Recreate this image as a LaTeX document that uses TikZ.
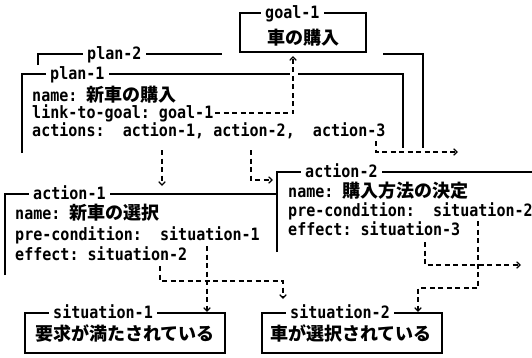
\documentclass[tikz,border=0pt]{standalone}
\usepackage{fontspec}
\setmonofont[FakeStretch=0.885]{DejaVu Sans Mono}
\newfontfamily\jpfont[Scale=1.06]{Noto Sans CJK JP}
\usetikzlibrary{arrows.meta}
\newcommand\latfont{\fontsize{17}{20}\selectfont\ttfamily\bfseries}
\newcommand\J[1]{{\jpfont #1}}
\tikzset{
  frame/.style={draw=black, line width=1.6pt},
  link/.style={draw=black, line width=1.3pt, dash pattern=on 5pt off 3.5pt},
  tip/.style={-{Straight Barb[length=3.5pt,width=6.5pt,line width=1.2pt]}},
  txt/.style={anchor=base west, inner sep=0pt, font=\latfont},
  ttl/.style={anchor=base west, inner xsep=4pt, inner ysep=0pt, fill=white, font=\latfont},
}
\begin{document}
\begin{tikzpicture}[x=1pt,y=-1pt]
\useasboundingbox[fill=white] (0,0) rectangle (532,357);

% goal-1
\draw[frame] (240,13) rectangle (366,52);
\node[ttl] (goalT) at (261,18) {goal-1};
\node[txt] (goalN) at (267,44) {\J{車の購入}};

% plan-2
\draw[frame] (38,65) -- (38,54) -- (222,54);
\draw[frame] (383,54) -- (423,54) -- (423,148);
\node[ttl] (p2T) at (83,59) {plan-2};

% plan-1
\draw[frame] (22,153) -- (22,74) -- (290,74);
\draw[frame] (298,74) -- (403,74) -- (403,148);
\node[ttl] (p1T) at (46,79) {plan-1};
\node[txt] (p1a) at (32,101) {name: \J{新車の購入}};
\node[txt] (p1b) at (32,118) {link-to-goal: goal-1};
\node[txt] (p1c) at (32,136) {actions:~ action-1, action-2,~ action-3};

% action-1
\draw[frame] (5,275) -- (5,194) -- (277,194);
\node[ttl] (a1T) at (29,199) {action-1};
\node[txt] (a1a) at (15,219) {name: \J{新車の選択}};
\node[txt] (a1b) at (15,240) {pre-condition:~ situation-1};
\node[txt] (a1c) at (15,260) {effect: situation-2};

% action-2
\draw[frame] (277,252) -- (277,172) -- (532,172);
\node[ttl] (a2T) at (301,177) {action-2};
\node[txt] (a2a) at (288,197) {name: \J{購入方法の決定}};
\node[txt] (a2b) at (288,216) {pre-condition:~ situation-2};
\node[txt] (a2c) at (288,235) {effect: situation-3};

% situation-1
\draw[frame] (25,313) rectangle (225,353);
\node[ttl] (s1T) at (49,318) {situation-1};
\node[txt] (s1N) at (35,340) {\J{要求が満たされている}};

% situation-2
\draw[frame] (262,313) rectangle (442,353);
\node[ttl] (s2T) at (286,318) {situation-2};
\node[txt] (s2N) at (270,340) {\J{車が選択されている}};

% connector points
\coordinate (gA) at (215,113); \coordinate (gB) at (293,113); \coordinate (gC) at (293,56);
\coordinate (x1A) at (162,150); \coordinate (x1B) at (162,186);
\coordinate (x2A) at (251,150); \coordinate (x2B) at (251,180); \coordinate (x2C) at (273,180);
\coordinate (x3A) at (376,141); \coordinate (x3B) at (376,152); \coordinate (x3C) at (458,152);
\coordinate (pA) at (207,246); \coordinate (pB) at (207,312);
\coordinate (eA) at (160,266); \coordinate (eB) at (160,281); \coordinate (eC) at (283,281); \coordinate (eD) at (283,299);
\coordinate (fA) at (425,242); \coordinate (fB) at (425,265); \coordinate (fC) at (521,265);
\coordinate (qA) at (478,221); \coordinate (qB) at (478,288); \coordinate (qC) at (418,288); \coordinate (qD) at (418,312);

\draw[link,tip] (gA) -- (gB) -- (gC);
\draw[link,tip] (x1A) -- (x1B);
\draw[link,tip] (x2A) -- (x2B) -- (x2C);
\draw[link,tip] (x3A) -- (x3B) -- (x3C);
\draw[link,tip] (pA) -- (pB);
\draw[link,tip] (eA) -- (eB) -- (eC) -- (eD);
\draw[link,tip] (fA) -- (fB) -- (fC);
\draw[link,tip] (qA) -- (qB) -- (qC) -- (qD);
\end{tikzpicture}
\end{document}
